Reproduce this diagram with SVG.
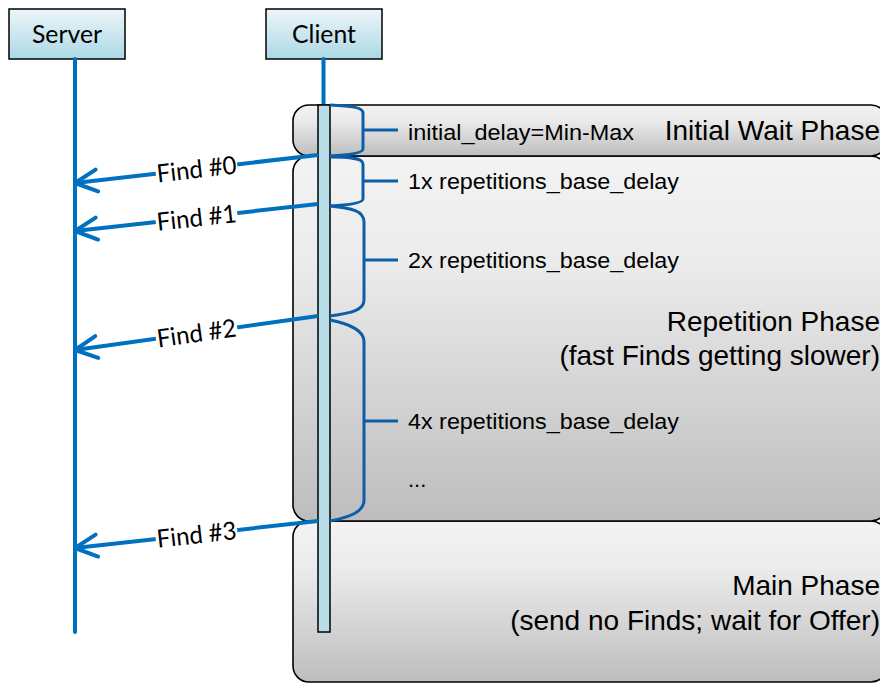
<svg xmlns="http://www.w3.org/2000/svg" width="880" height="683" viewBox="0 0 880 683">
<style>
.hdr{fill:url(#hdrG);stroke:#000;stroke-width:1.5}
.life{stroke:#0070c0;stroke-width:4;stroke-linecap:round;fill:none}
.phase{fill:url(#phG);stroke:#000;stroke-width:1.6}
.brace{fill:none;stroke:#0d5ea8;stroke-width:3}
.msg{fill:none;stroke:#0070c0;stroke-width:4}
.cal{font-family:Lato,"Open Sans","Noto Sans",sans-serif;font-size:25px;fill:#000}
.ar{font-family:"Liberation Sans",Arial,sans-serif;fill:#000}
.sm{font-size:22px}
.big{font-size:28px}
.lblbg{fill:#fff}
</style>
<defs>
<linearGradient id="hdrG" x1="0" y1="0" x2="0" y2="1">
<stop offset="0" stop-color="#ecf6f9"/>
<stop offset="1" stop-color="#acd8e6"/>
</linearGradient>
<linearGradient id="phG" x1="0" y1="0" x2="0" y2="1">
<stop offset="0" stop-color="#f3f3f3"/>
<stop offset="0.3" stop-color="#ebebeb"/>
<stop offset="1" stop-color="#bdbdbd"/>
</linearGradient>
<marker id="arr" markerUnits="userSpaceOnUse" viewBox="-28 -16 32 32" markerWidth="32" markerHeight="32" refX="0" refY="0" orient="auto">
<path d="M-22,-11 L0,0 L-22,11" fill="none" stroke="#0070c0" stroke-width="4" stroke-linecap="round" stroke-linejoin="round"/>
</marker>
</defs>

<g id="phase-main">
<rect class="phase" x="293" y="521" width="594" height="161" rx="16" ry="16"/>
<text class="ar big" x="880" y="595" text-anchor="end">Main Phase</text>
<text class="ar big" x="880" y="630" text-anchor="end">(send no Finds; wait for Offer)</text>
</g>
<g id="phase-repetition">
<rect class="phase" x="293" y="156" width="594" height="365" rx="16" ry="16"/>
<text class="ar big" x="880" y="331" text-anchor="end">Repetition Phase</text>
<text class="ar big" x="880" y="365" text-anchor="end">(fast Finds getting slower)</text>
</g>
<g id="phase-initial-wait">
<rect class="phase" x="293" y="105" width="594" height="51" rx="16" ry="16"/>
<text class="ar big" x="880" y="140" text-anchor="end">Initial Wait Phase</text>
</g>

<g id="server">
<rect class="hdr" x="9" y="9" width="116" height="50"/>
<text class="cal" x="67" y="43" text-anchor="middle" textLength="70" lengthAdjust="spacingAndGlyphs">Server</text>
<line class="life" x1="75" y1="59" x2="75" y2="632"/>
</g>

<g id="client">
<rect class="hdr" x="266" y="9" width="116" height="50"/>
<text class="cal" x="324" y="43" text-anchor="middle" textLength="64" lengthAdjust="spacingAndGlyphs">Client</text>
<line class="life" x1="323.5" y1="59" x2="323.5" y2="105"/>
<rect id="client-activation" x="318" y="105" width="12" height="527" fill="#b8dde8" stroke="#000" stroke-width="1.5"/>
</g>

<g id="delays">
<path class="brace" d="M330,105 C350,106 363,107 363,113 L363,149 C363,153 350,155 330,156 M363,130 L398,130"/>
<text class="ar sm" x="408" y="140" textLength="226" lengthAdjust="spacingAndGlyphs">initial_delay=Min-Max</text>
<path class="brace" d="M330,157 C350,157 363,158 363,164 L363,199 C363,203 350,205 330,206 M363,181 L398,181"/>
<text class="ar sm" x="408" y="189" textLength="271" lengthAdjust="spacingAndGlyphs">1x repetitions_base_delay</text>
<path class="brace" d="M330,206 C352,208 364,211 364,222 L364,300 C364,310 352,313 330,316 M364,260 L398,260"/>
<text class="ar sm" x="408" y="268" textLength="271" lengthAdjust="spacingAndGlyphs">2x repetitions_base_delay</text>
<path class="brace" d="M330,320 C350,324 364,330 364,342 L364,500 C364,512 350,517 330,521 M364,421 L398,421"/>
<text class="ar sm" x="408" y="429" textLength="271" lengthAdjust="spacingAndGlyphs">4x repetitions_base_delay</text>
<text class="ar sm" x="408" y="487">...</text>
</g>

<g id="connectors">
<path class="msg" d="M318,155 L75,183" marker-end="url(#arr)"/>
<path class="msg" d="M318,204 L75,231" marker-end="url(#arr)"/>
<path class="msg" d="M318,316 L75,350" marker-end="url(#arr)"/>
<path class="msg" d="M318,521 L75,548" marker-end="url(#arr)"/>
<g transform="translate(196.5,169) rotate(-6.57)">
<rect class="lblbg" x="-41" y="-12" width="82" height="24"/>
<text class="cal" x="0" y="9" text-anchor="middle" textLength="80" lengthAdjust="spacingAndGlyphs">Find #0</text>
</g>
<g transform="translate(196.5,217.5) rotate(-6.34)">
<rect class="lblbg" x="-41" y="-12" width="82" height="24"/>
<text class="cal" x="0" y="9" text-anchor="middle" textLength="80" lengthAdjust="spacingAndGlyphs">Find #1</text>
</g>
<g transform="translate(196.5,333) rotate(-7.96)">
<rect class="lblbg" x="-41" y="-12" width="82" height="24"/>
<text class="cal" x="0" y="9" text-anchor="middle" textLength="80" lengthAdjust="spacingAndGlyphs">Find #2</text>
</g>
<g transform="translate(196.5,534.5) rotate(-6.34)">
<rect class="lblbg" x="-41" y="-12" width="82" height="24"/>
<text class="cal" x="0" y="9" text-anchor="middle" textLength="80" lengthAdjust="spacingAndGlyphs">Find #3</text>
</g>
</g>
</svg>
